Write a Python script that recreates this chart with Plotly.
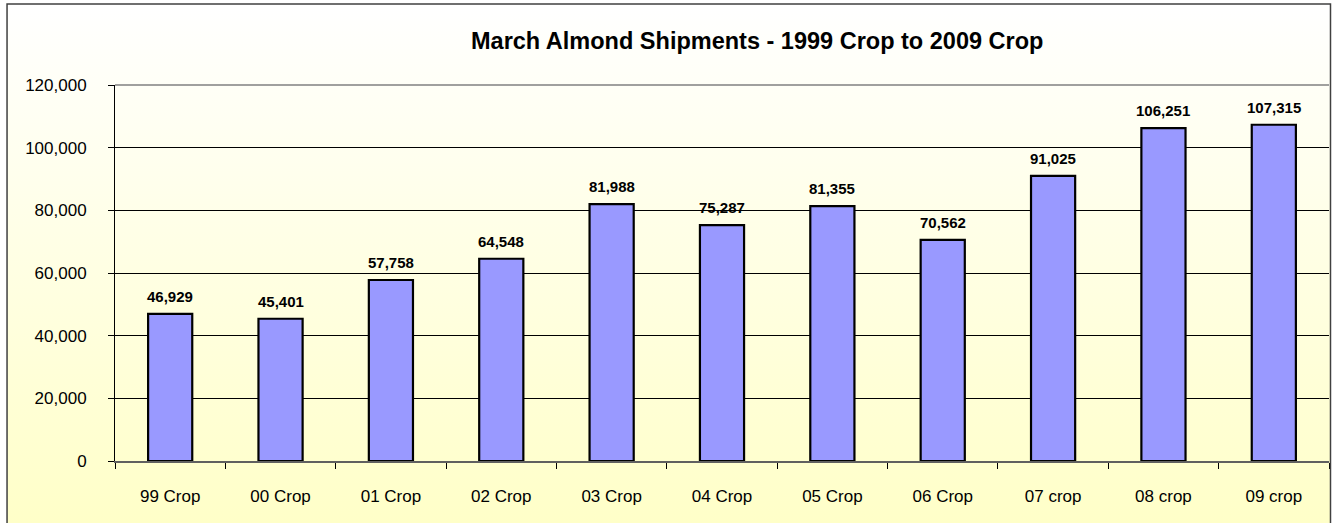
import plotly.graph_objects as go

categories = ["99 Crop", "00 Crop", "01 Crop", "02 Crop", "03 Crop", "04 Crop",
              "05 Crop", "06 Crop", "07 crop", "08 crop", "09 crop"]
shipments = [46929, 45401, 57758, 64548, 81988, 75287, 81355, 70562, 91025, 106251, 107315]
y_ticks = [0, 20000, 40000, 60000, 80000, 100000, 120000]
y_tick_labels = ["0", "20,000", "40,000", "60,000", "80,000", "100,000", "120,000"]
title_text = "March Almond Shipments - 1999 Crop to 2009 Crop"

W, H = 1333, 523
L, R, T, B = 115, 3.5, 85, 62
pw, ph = W - L - R, H - T - B

def px_x(px):
    return (px - L) / pw

def px_y(py):
    return (H - B - py) / ph

FONT = "Liberation Sans, Arial, sans-serif"

fig = go.Figure()
fig.add_trace(go.Bar(
    x=categories, y=shipments,
    marker=dict(color="#9999FF", line=dict(color="#000000", width=2.2)),
    width=0.4, hoverinfo="x+y",
))

annotations = [
    dict(x=c, y=v, xref="x", yref="y", text=f"{v:,}", showarrow=False,
         yanchor="bottom", yshift=7,
         font=dict(family=FONT, size=15, color="#000000", weight="bold"))
    for c, v in zip(categories, shipments)
]
annotations.append(dict(
    x=px_x(757), y=px_y(41), xref="paper", yref="paper", text=f"<b>{title_text}</b>",
    showarrow=False, xanchor="center", yanchor="middle",
    font=dict(family=FONT, size=23.5, color="#000000"),
))

svg = ("data:image/svg+xml;utf8,"
       "<svg xmlns='http://www.w3.org/2000/svg' width='100' height='100' preserveAspectRatio='none'>"
       "<defs><linearGradient id='g' x1='0' y1='0' x2='0' y2='1'>"
       "<stop offset='0' stop-color='%23FFFFFF'/><stop offset='1' stop-color='%23FFFFC8'/>"
       "</linearGradient></defs><rect width='100' height='100' fill='url(%23g)'/></svg>")

images = [dict(source=svg, xref="paper", yref="paper",
               x=px_x(7), y=px_y(4), sizex=px_x(1331) - px_x(7), sizey=px_y(4) - px_y(523),
               sizing="stretch", xanchor="left", yanchor="top", layer="below")]

shapes = [
    dict(type="rect", xref="paper", yref="paper",
         x0=px_x(7), x1=px_x(1331), y0=px_y(524), y1=px_y(4),
         line=dict(color="#404040", width=1.5), fillcolor="rgba(0,0,0,0)", layer="above"),
    dict(type="line", xref="paper", yref="paper",
         x0=0, x1=1, y0=1, y1=1, line=dict(color="#808080", width=1.5), layer="below"),
]

fig.update_layout(
    width=W, height=H,
    margin=dict(l=L, r=R, t=T, b=B, pad=0),
    paper_bgcolor="#FFFFFF", plot_bgcolor="rgba(0,0,0,0)",
    font=dict(family=FONT, size=17, color="#000000"),
    showlegend=False,
    bargap=0.6,
    annotations=annotations, images=images, shapes=shapes,
    xaxis=dict(
        type="category", tickson="boundaries", ticks="outside", ticklen=6,
        tickcolor="#000000", showline=True, linecolor="#606060", linewidth=1.5,
        showgrid=False, tickfont=dict(size=17), ticklabelstandoff=19,
        range=[-0.5, len(categories) - 0.5],
    ),
    yaxis=dict(
        range=[0, 120000], tickvals=y_ticks, ticktext=y_tick_labels,
        ticks="outside", ticklen=6, tickcolor="#000000",
        showline=True, linecolor="#000000", linewidth=1,
        showgrid=True, gridcolor="#000000", gridwidth=1,
        zeroline=False, tickfont=dict(size=17), ticklabelstandoff=18,
    ),
)

fig.write_html(
    "out.html",
    config={"displayModeBar": False},
    post_script="document.body.style.margin='0';document.body.style.overflow='hidden';",
)
